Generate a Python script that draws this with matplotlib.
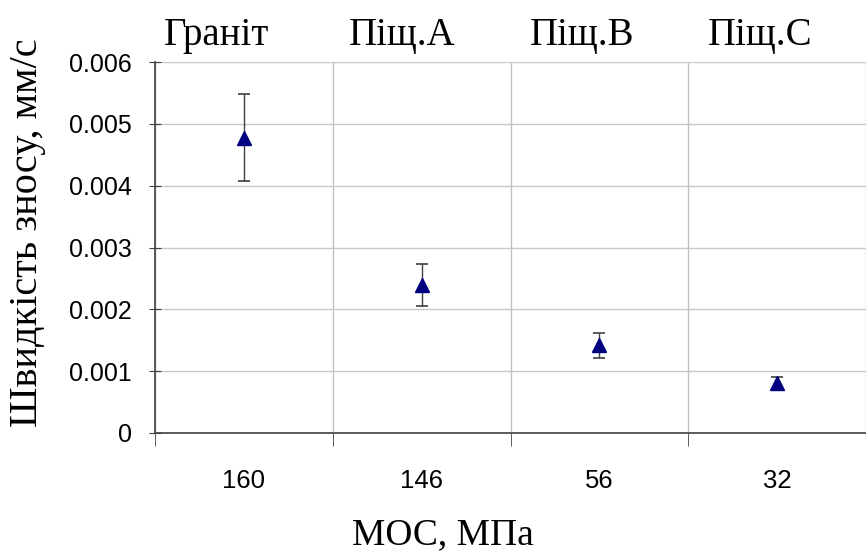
import matplotlib
matplotlib.use("Agg")
import matplotlib.pyplot as plt
import numpy as np

categories = ["160", "146", "56", "32"]
materials = ["Граніт", "Піщ.А", "Піщ.В", "Піщ.С"]
wear_rate = [0.00478, 0.00239, 0.00142, 0.00081]
err_low = [0.00070, 0.00034, 0.00020, 0.00011]
err_high = [0.00070, 0.00034, 0.00020, 0.00010]
yticks = [0, 0.001, 0.002, 0.003, 0.004, 0.005, 0.006]
ytick_labels = ["0", "0.001", "0.002", "0.003", "0.004", "0.005", "0.006"]

# layout: horizontal shift of the top material labels (in category units)
label_shift = [-0.155, -0.107, -0.096, -0.096]

fig = plt.figure(figsize=(8.66, 5.55), dpi=100)
ax = fig.add_axes([0.179, 0.22, 0.821, 0.668])

x = np.arange(len(categories))
ax.errorbar(x, wear_rate, yerr=[err_low, err_high], fmt='^', color='#000080',
            markersize=10, ecolor='#404040', elinewidth=1.0, capsize=4, capthick=1.2, zorder=3)

ax.set_xlim(-0.5, len(categories) - 0.5)
ax.set_ylim(0, 0.006)
ax.set_yticks(yticks)
ax.set_yticklabels(ytick_labels, fontfamily='Liberation Sans', fontsize=18)
ax.set_xticks(x)
ax.set_xticklabels(categories, fontfamily='Liberation Sans', fontsize=18.5)
ax.tick_params(axis='x', which='major', length=0, pad=26)
ax.set_xticks(np.arange(len(categories) + 1) - 0.5, minor=True)
ax.tick_params(axis='x', which='minor', length=9, direction='out', color='#404040')
ax.tick_params(axis='y', which='major', length=9, direction='inout', color='#404040', pad=12)

ax.grid(axis='y', which='major', color='#c8c8c8', linewidth=1.0)
ax.grid(axis='x', which='minor', color='#c0c0c0', linewidth=1.0)
ax.set_axisbelow(True)

for s in ['top', 'right']:
    ax.spines[s].set_visible(False)
for s in ['left', 'bottom']:
    ax.spines[s].set_color('#404040')
    ax.spines[s].set_linewidth(1.2)

for xi, m, dx in zip(x, materials, label_shift):
    ax.text(xi + dx, 1.046, m, transform=ax.get_xaxis_transform(), ha='center', va='baseline',
            fontfamily='Liberation Serif', fontsize=28)

ax.text(0.405, -0.300, "МОС, МПа", transform=ax.transAxes, ha='center', va='baseline',
        fontfamily='Liberation Serif', fontsize=27)
ax.text(-0.179, 0.54, "Швидкість зносу, мм/с", transform=ax.transAxes, ha='center', va='center',
        rotation=90, fontfamily='Liberation Serif', fontsize=29)

fig.savefig("out.png", dpi=100)
